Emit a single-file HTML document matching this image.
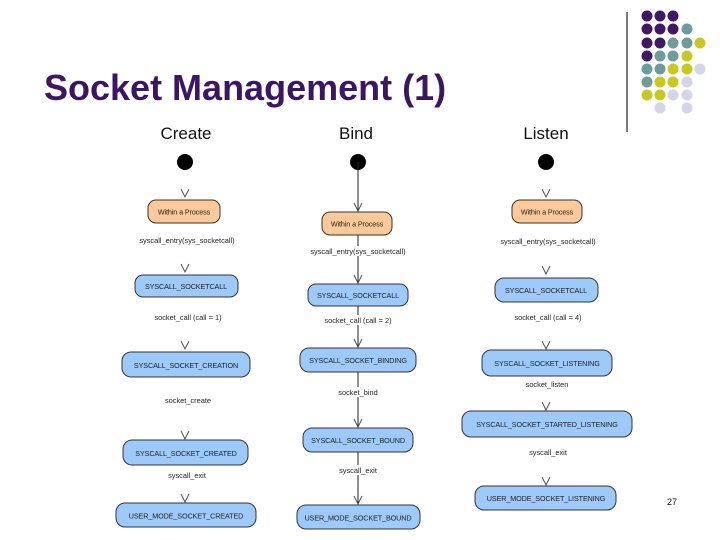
<!DOCTYPE html>
<html><head><meta charset="utf-8"><style>
html,body{margin:0;padding:0;background:#fff;}
svg{display:block;font-family:"Liberation Sans",Arial,sans-serif;}
.b{fill:#9dc9fb;stroke:#333;stroke-width:1;}
.o{fill:#fcc99a;stroke:#333;stroke-width:1;}
.t{font-size:7.2px;fill:#222;text-anchor:middle;letter-spacing:-0.1px;}
.l{font-size:7.4px;fill:#222;text-anchor:middle;}
.a{fill:none;stroke:#444;stroke-width:0.9;}
</style></head><body>
<svg width="720" height="540" viewBox="0 0 720 540">
<text x="44" y="100" font-size="36" font-weight="bold" fill="#3a1760">Socket Management (1)</text>
<line x1="627" y1="12" x2="627" y2="132" stroke="#222" stroke-width="1.2"/>
<g>
<circle cx="647" cy="16" r="5.5" fill="#3d1a63"/><circle cx="660" cy="16" r="5.5" fill="#3d1a63"/><circle cx="673" cy="16" r="5.5" fill="#3d1a63"/>
<circle cx="647" cy="29" r="5.5" fill="#3d1a63"/><circle cx="660" cy="29" r="5.5" fill="#3d1a63"/><circle cx="673" cy="29" r="5.5" fill="#3d1a63"/><circle cx="687" cy="29" r="5.5" fill="#6f9b9b"/>
<circle cx="647" cy="43" r="5.5" fill="#3d1a63"/><circle cx="660" cy="43" r="5.5" fill="#3d1a63"/><circle cx="673" cy="43" r="5.5" fill="#6f9b9b"/><circle cx="687" cy="43" r="5.5" fill="#6f9b9b"/><circle cx="700" cy="43" r="5.5" fill="#c9c822"/>
<circle cx="647" cy="56" r="5.5" fill="#3d1a63"/><circle cx="660" cy="56" r="5.5" fill="#6f9b9b"/><circle cx="673" cy="56" r="5.5" fill="#6f9b9b"/><circle cx="687" cy="56" r="5.5" fill="#c9c822"/>
<circle cx="647" cy="69" r="5.5" fill="#6f9b9b"/><circle cx="660" cy="69" r="5.5" fill="#6f9b9b"/><circle cx="673" cy="69" r="5.5" fill="#c9c822"/><circle cx="687" cy="69" r="5.5" fill="#c9c822"/><circle cx="700" cy="69" r="5.5" fill="#d5d5e8"/>
<circle cx="647" cy="82" r="5.5" fill="#6f9b9b"/><circle cx="660" cy="82" r="5.5" fill="#c9c822"/><circle cx="673" cy="82" r="5.5" fill="#c9c822"/><circle cx="687" cy="82" r="5.5" fill="#d5d5e8"/>
<circle cx="647" cy="95" r="5.5" fill="#c9c822"/><circle cx="660" cy="95" r="5.5" fill="#c9c822"/><circle cx="673" cy="95" r="5.5" fill="#d5d5e8"/><circle cx="687" cy="95" r="5.5" fill="#d5d5e8"/>
<circle cx="660" cy="108" r="5.5" fill="#d5d5e8"/><circle cx="687" cy="108" r="5.5" fill="#d5d5e8"/>
</g>
<text x="186" y="139" font-size="17" text-anchor="middle" fill="#111">Create</text>
<text x="356" y="139" font-size="17" text-anchor="middle" fill="#111">Bind</text>
<text x="546" y="139" font-size="17" text-anchor="middle" fill="#111">Listen</text>

<circle cx="185" cy="162" r="8" fill="#000"/>
<path class="a" d="M181,189 L185,197 L189,189"/>
<rect class="o" x="148" y="200" width="72" height="23" rx="8"/><text class="t" x="184" y="214.5">Within a Process</text>
<text class="l" x="187" y="243">syscall_entry(sys_socketcall)</text>
<path class="a" d="M181,264 L185,272 L189,264"/>
<rect class="b" x="135" y="275" width="103" height="22" rx="8"/><text class="t" x="186" y="289">SYSCALL_SOCKETCALL</text>
<text class="l" x="188" y="320">socket_call (call = 1)</text>
<path class="a" d="M181,341 L185,349 L189,341"/>
<rect class="b" x="122" y="352" width="128" height="25" rx="9"/><text class="t" x="186" y="368">SYSCALL_SOCKET_CREATION</text>
<text class="l" x="188" y="403">socket_create</text>
<path class="a" d="M181,431 L185,439 L189,431"/>
<rect class="b" x="123" y="440" width="125" height="25" rx="9"/><text class="t" x="186" y="456">SYSCALL_SOCKET_CREATED</text>
<text class="l" x="187" y="478">syscall_exit</text>
<path class="a" d="M181,494 L185,502 L189,494"/>
<rect class="b" x="116" y="503" width="140" height="24" rx="9"/><text class="t" x="186" y="518.5">USER_MODE_SOCKET_CREATED</text>

<circle cx="358" cy="162" r="8" fill="#000"/>
<line x1="358" y1="162" x2="358" y2="212" stroke="#222"/>
<path class="a" d="M354,203 L358,211 L362,203"/>
<rect class="o" x="322" y="212" width="70" height="23" rx="8"/><text class="t" x="357" y="226.5">Within a Process</text>
<line x1="358" y1="235" x2="358" y2="284" stroke="#222"/>
<rect x="300" y="246" width="115" height="10" fill="#fff"/>
<text class="l" x="358" y="254">syscall_entry(sys_socketcall)</text>
<path class="a" d="M354,275 L358,283 L362,275"/>
<rect class="b" x="308" y="284" width="100" height="22" rx="8"/><text class="t" x="358" y="298">SYSCALL_SOCKETCALL</text>
<line x1="358" y1="306" x2="358" y2="348" stroke="#222"/>
<rect x="320" y="315" width="76" height="10" fill="#fff"/>
<text class="l" x="358" y="323">socket_call (call = 2)</text>
<path class="a" d="M354,339 L358,347 L362,339"/>
<rect class="b" x="300" y="348" width="116" height="24" rx="9"/><text class="t" x="358" y="363">SYSCALL_SOCKET_BINDING</text>
<line x1="358" y1="372" x2="358" y2="428" stroke="#222"/>
<rect x="335" y="387" width="46" height="10" fill="#fff"/>
<text class="l" x="358" y="395">socket_bind</text>
<path class="a" d="M354,419 L358,427 L362,419"/>
<rect class="b" x="303" y="428" width="110" height="24" rx="9"/><text class="t" x="358" y="443">SYSCALL_SOCKET_BOUND</text>
<line x1="358" y1="452" x2="358" y2="505" stroke="#222"/>
<rect x="337" y="465" width="42" height="10" fill="#fff"/>
<text class="l" x="358" y="473">syscall_exit</text>
<path class="a" d="M354,496 L358,504 L362,496"/>
<rect class="b" x="297" y="505" width="123" height="24" rx="9"/><text class="t" x="358" y="520.5">USER_MODE_SOCKET_BOUND</text>

<circle cx="546" cy="162" r="8" fill="#000"/>
<path class="a" d="M542,189 L546,197 L550,189"/>
<rect class="o" x="512" y="200" width="70" height="23" rx="8"/><text class="t" x="547" y="214.5">Within a Process</text>
<text class="l" x="548" y="244">syscall_entry(sys_socketcall)</text>
<path class="a" d="M542,266 L546,274 L550,266"/>
<rect class="b" x="495" y="278" width="103" height="24" rx="9"/><text class="t" x="546" y="293">SYSCALL_SOCKETCALL</text>
<text class="l" x="548" y="320">socket_call (call = 4)</text>
<path class="a" d="M542,341 L546,349 L550,341"/>
<rect class="b" x="482" y="350" width="130" height="26" rx="9"/><text class="t" x="547" y="366">SYSCALL_SOCKET_LISTENING</text>
<text class="l" x="547" y="387">socket_listen</text>
<path class="a" d="M542,402 L546,410 L550,402"/>
<rect class="b" x="462" y="411" width="170" height="26" rx="9"/><text class="t" x="547" y="427">SYSCALL_SOCKET_STARTED_LISTENING</text>
<text class="l" x="548" y="455">syscall_exit</text>
<path class="a" d="M542,477 L546,485 L550,477"/>
<rect class="b" x="475" y="486" width="141" height="24" rx="9"/><text class="t" x="546" y="501">USER_MODE_SOCKET_LISTENING</text>

<text x="672" y="505" font-size="9" text-anchor="middle" fill="#111">27</text>
</svg>
</body></html>
